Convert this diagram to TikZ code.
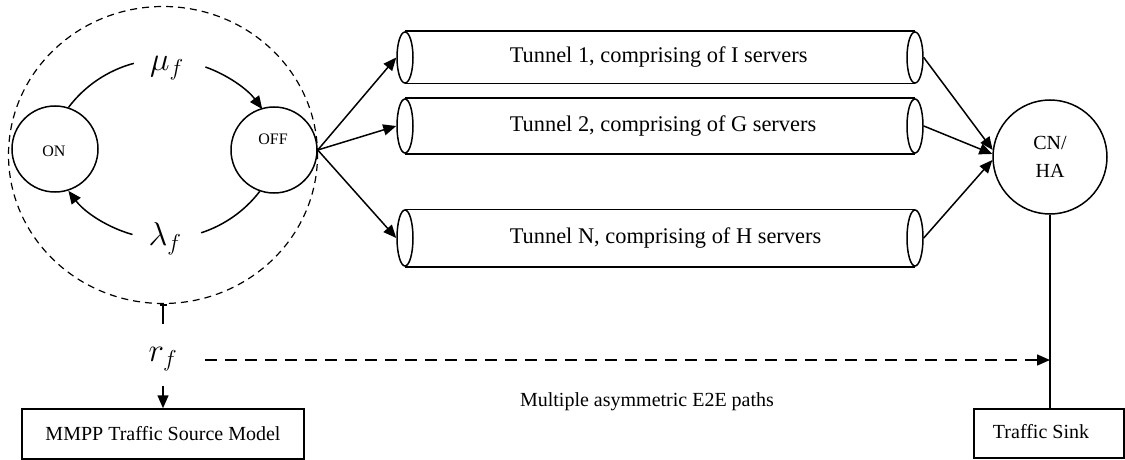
\RequirePackage{fix-cm}
\documentclass[tikz,border=0pt]{standalone}
\usepackage{fontspec}
\setmainfont{Liberation Serif}
\usetikzlibrary{arrows.meta,shapes.geometric}

\begin{document}
\begin{tikzpicture}[x=1pt,y=-1pt,line width=1.5pt,
  state/.style={circle,draw,minimum size=86pt,inner sep=0pt},
  tend/.style={ellipse,draw,minimum width=16pt,inner sep=0pt},
  box/.style={draw,inner sep=0pt},
  tip/.style={-{Triangle[length=13pt,width=11pt]}},
  small/.style={font=\fontsize{16}{19}\selectfont},
  big/.style={font=\fontsize{22.4}{26}\selectfont},
  mid/.style={font=\fontsize{20}{28}\selectfont},
  mathlbl/.style={font=\fontsize{33}{38}\selectfont},
  ttext/.style={big,anchor=west,inner sep=0pt}]
\useasboundingbox (0,0) rectangle (1125,460);

% traffic source: two-state chain inside a dashed boundary
\node[ellipse,draw,line width=1.2pt,dash pattern=on 7pt off 5pt,
      minimum width=309pt,minimum height=297pt] (src) at (163,155) {};
\node[state] (on) at (55,149) {};
\node[small] at (54,151) {ON};
\node[state] (off) at (274,150) {};
\node[small] at (273,139) {OFF};

\node[mathlbl] (mu) at (167,68) {$\mu_f$};
\node[mathlbl] (lam) at (165,239) {$\lambda_f$};

\coordinate (muR) at (205.4,67);
\coordinate (lamL) at (132.5,234.5);
\draw (on.72) arc[start angle=-143,end angle=-105,radius=121];
\draw[tip] (muR) arc[start angle=-70.5,end angle=-36.5,radius=121];
\draw (off.-109) arc[start angle=37.5,end angle=72,radius=121];
\draw[tip] (lamL) arc[start angle=105.6,end angle=143,radius=121];

% source model output
\coordinate (rtop) at (163,324);
\coordinate (rbot) at (163,386);
\node[mathlbl] (rf) at (163,359) {$r_f$};
\node[box,mid,minimum width=282pt,minimum height=50pt] (mmpp) at (163,434)
  {MMPP Traffic Source Model\hspace{6pt}};
\draw[{Bar[width=7pt]}-] (src.south) -- (rtop);
\draw[tip] (rbot) -- (mmpp.north);

% tunnels
\foreach \n/\cy/\h/\lbl in {1/57.5/51/{Tunnel 1, comprising of I servers},
                            2/126/54/{Tunnel 2, comprising of G servers},
                            3/238/56/{Tunnel N, comprising of H servers}}{
  \node[tend,minimum height=\h pt] (t\n l) at (405,\cy) {};
  \node[tend,minimum height=\h pt] (t\n r) at (915,\cy) {};
  \draw (t\n l.north) -- (t\n r.north);
  \draw (t\n l.south) -- (t\n r.south);
  \node[ttext] at (509,\cy) {\lbl};
}

% correspondent node / home agent
\node[circle,draw,minimum size=114pt,inner sep=0pt,mid,align=center] (cn)
  at (1050,157) {CN/\\HA};

\draw[tip] (off.east) -- (t1l.west);
\draw[tip] (off.east) -- (t2l.west);
\draw[tip] (off.east) -- (t3l.west);
\draw[tip] (t1r.east) -- (cn.173);
\draw[tip] (t2r.east) -- (cn.177);
\draw[tip] (t3r.east) -- (cn.183);

% sink
\node[box,minimum width=150pt,minimum height=49pt] (sink) at (1049,433.5) {};
\node[mid] (sinklbl) at (1041,432) {Traffic Sink};
\draw (cn.south) -- (cn.south |- sink.north);

% end-to-end path
\coordinate (dstart) at (205,360);
\draw[tip,dash pattern=on 12pt off 8pt] (dstart) -- (dstart -| cn);
\node[mid] (e2e) at (647,402) {Multiple asymmetric E2E paths};
\end{tikzpicture}
\end{document}
